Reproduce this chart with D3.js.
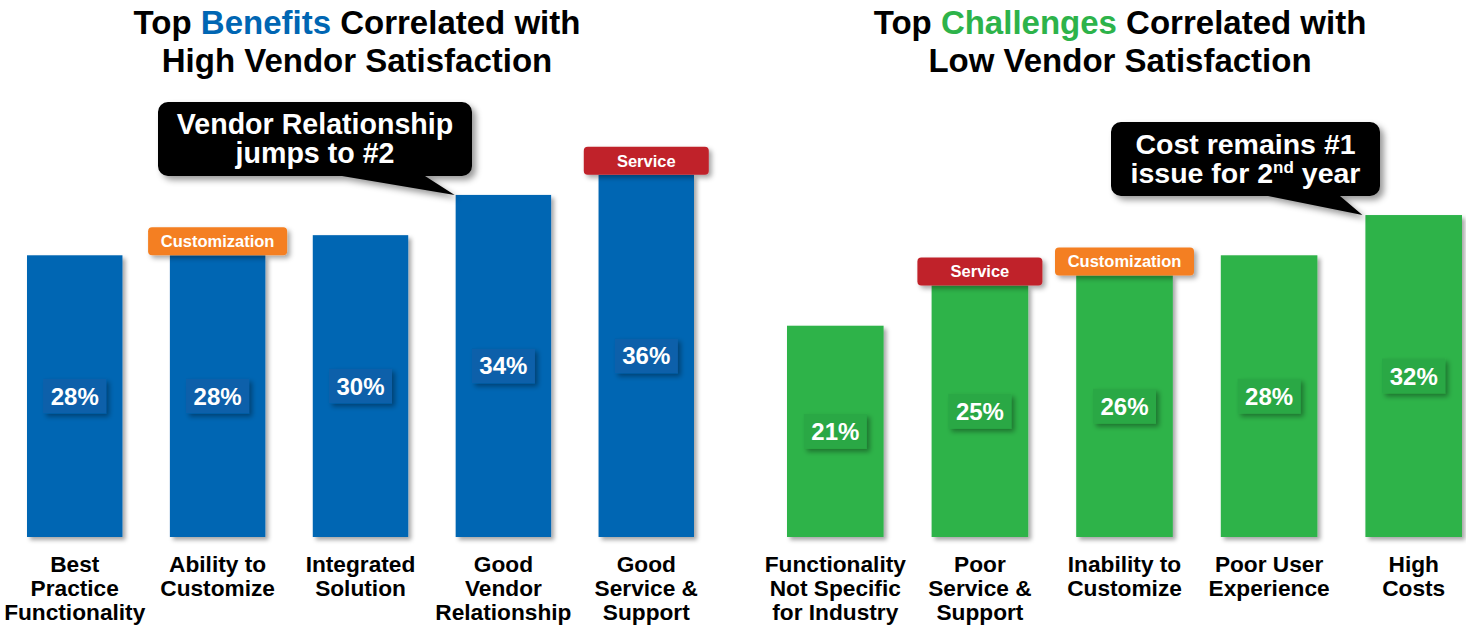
<!DOCTYPE html>
<html>
<head>
<meta charset="utf-8">
<script src="https://cdn.jsdelivr.net/npm/d3@7"></script>
<style>
  html, body { margin: 0; padding: 0; background: #fff; }
  svg { display: block; font-family: "Liberation Sans", Arial, Helvetica, sans-serif; }
</style>
</head>
<body>
<svg id="chart" width="1466" height="625"></svg>
<script>
// ---- Data ----
const benefitCategories = [
  ["Best", "Practice", "Functionality"],
  ["Ability to", "Customize"],
  ["Integrated", "Solution"],
  ["Good", "Vendor", "Relationship"],
  ["Good", "Service &", "Support"]
];
const benefitValues = [28, 28, 30, 34, 36];
const benefitTags = ["", "Customization", "", "", "Service"];

const challengeCategories = [
  ["Functionality", "Not Specific", "for Industry"],
  ["Poor", "Service &", "Support"],
  ["Inability to", "Customize"],
  ["Poor User", "Experience"],
  ["High", "Costs"]
];
const challengeValues = [21, 25, 26, 28, 32];
const challengeTags = ["", "Service", "Customization", "", ""];

const tagColors = { "Service": "#c0212b", "Customization": "#f47f20" };

// ---- Setup ----
const svg = d3.select("#chart");

const defs = svg.append("defs");
function shadow(id, dx, dy, sd, op) {
  const f = defs.append("filter").attr("id", id)
    .attr("x", "-20%").attr("y", "-20%").attr("width", "150%").attr("height", "150%");
  f.append("feDropShadow").attr("dx", dx).attr("dy", dy)
    .attr("stdDeviation", sd).attr("flood-color", "#000").attr("flood-opacity", op);
}
shadow("barShadow", 3, 3, 2, 0.35);
shadow("boxShadow", 3, 3, 2.5, 0.35);
shadow("calloutShadow", 4, 4, 3, 0.4);

const baseline = 537;
const y = d3.scaleLinear().domain([0, 36]).range([baseline, baseline - 362.2]);

function panel(cfg) {
  const x = d3.scaleBand()
    .domain(d3.range(cfg.values.length))
    .range(cfg.range)
    .paddingInner(0.332)
    .paddingOuter(0);
  const g = svg.append("g");

  // Title
  const t = g.append("text").attr("x", cfg.titleX).attr("y", 34)
    .attr("text-anchor", "middle").attr("font-size", 33).attr("font-weight", "bold")
    .attr("fill", "#000");
  t.append("tspan").text("Top ");
  t.append("tspan").attr("fill", cfg.accent).text(cfg.titleWord);
  t.append("tspan").text(" Correlated with");
  g.append("text").attr("x", cfg.titleX).attr("y", 72)
    .attr("text-anchor", "middle").attr("font-size", 33).attr("font-weight", "bold")
    .attr("fill", "#000").text(cfg.title2);

  // Bars
  g.selectAll("rect.bar").data(cfg.values).join("rect")
    .attr("class", "bar")
    .attr("x", (d, i) => x(i))
    .attr("y", d => y(d))
    .attr("width", x.bandwidth())
    .attr("height", d => baseline - y(d))
    .attr("fill", cfg.color)
    .attr("filter", "url(#barShadow)");

  // Value label boxes
  const lab = g.selectAll("g.vlab").data(cfg.values).join("g")
    .attr("class", "vlab")
    .attr("transform", (d, i) => `translate(${x(i) + x.bandwidth() / 2},${(y(d) + baseline) / 2})`);
  lab.append("rect").attr("x", -31.5).attr("y", -17.5).attr("width", 63).attr("height", 35)
    .attr("fill", cfg.boxColor).attr("filter", "url(#boxShadow)");
  lab.append("text").attr("text-anchor", "middle").attr("y", 8.5)
    .attr("font-size", 24).attr("font-weight", "bold").attr("fill", "#fff")
    .text(d => d + "%");

  // Tags
  cfg.tags.forEach((tag, i) => {
    if (!tag) return;
    const w = tag === "Service" ? 125 : 139;
    const cx = x(i) + x.bandwidth() / 2;
    const top = y(cfg.values[i]) - 28;
    g.append("rect").attr("x", cx - w / 2).attr("y", top).attr("width", w).attr("height", 28)
      .attr("rx", 4).attr("fill", tagColors[tag]).attr("filter", "url(#boxShadow)");
    g.append("text").attr("x", cx).attr("y", top + 20).attr("text-anchor", "middle")
      .attr("font-size", 16.5).attr("font-weight", "bold").attr("fill", "#fff").text(tag);
  });

  // Category labels
  cfg.categories.forEach((lines, i) => {
    const cx = x(i) + x.bandwidth() / 2;
    const tx = g.append("text").attr("text-anchor", "middle")
      .attr("font-size", 22.7).attr("font-weight", "bold").attr("fill", "#000");
    lines.forEach((ln, j) => {
      tx.append("tspan").attr("x", cx).attr("y", 572 + j * 24).text(ln);
    });
  });

  return x;
}

const xL = panel({
  values: benefitValues, categories: benefitCategories, tags: benefitTags,
  range: [27, 694], color: "#0066b3", boxColor: "#0a60aa", accent: "#0066b3",
  titleX: 357, titleWord: "Benefits", title2: "High Vendor Satisfaction"
});
const xR = panel({
  values: challengeValues, categories: challengeCategories, tags: challengeTags,
  range: [787, 1462], color: "#2db34a", boxColor: "#29a844", accent: "#2db34a",
  titleX: 1120, titleWord: "Challenges", title2: "Low Vendor Satisfaction"
});

// ---- Callouts ----
function callout(box, tip, baseL, baseR, fs, lineGap, firstY) {
  const g = svg.append("g").attr("filter", "url(#calloutShadow)");
  const r = 10;
  const path = d3.path();
  path.moveTo(box.x0 + r, box.y0);
  path.lineTo(box.x1 - r, box.y0);
  path.arcTo(box.x1, box.y0, box.x1, box.y0 + r, r);
  path.lineTo(box.x1, box.y1 - r);
  path.arcTo(box.x1, box.y1, box.x1 - r, box.y1, r);
  path.lineTo(baseR, box.y1);
  path.lineTo(tip[0], tip[1]);
  path.lineTo(baseL, box.y1);
  path.lineTo(box.x0 + r, box.y1);
  path.arcTo(box.x0, box.y1, box.x0, box.y1 - r, r);
  path.lineTo(box.x0, box.y0 + r);
  path.arcTo(box.x0, box.y0, box.x0 + r, box.y0, r);
  path.closePath();
  g.append("path").attr("d", path.toString()).attr("fill", "#000");
  const cx = (box.x0 + box.x1) / 2;
  const t = svg.append("text").attr("text-anchor", "middle").attr("font-size", fs)
    .attr("font-weight", "bold").attr("fill", "#fff");
  return [
    t.append("tspan").attr("x", cx).attr("y", box.y0 + firstY),
    t.append("tspan").attr("x", cx).attr("y", box.y0 + firstY + lineGap)
  ];
}

const c1 = callout({ x0: 158, y0: 102, x1: 472, y1: 176 },
  [xL(3) - 1, y(benefitValues[3])], 342, 425, 28.6, 29, 32);
c1[0].text("Vendor Relationship");
c1[1].text("jumps to #2");

const c2 = callout({ x0: 1111, y0: 122, x1: 1380, y1: 196 },
  [xR(4) - 3, y(challengeValues[4])], 1268, 1340, 28.5, 29, 31.5);
c2[0].text("Cost remains #1");
c2[1].text("issue for 2");
const t2 = d3.select(c2[1].node().parentNode);
t2.append("tspan").attr("font-size", 17).attr("dy", -10).text("nd");
t2.append("tspan").attr("dy", 10).text(" year");
</script>
</body>
</html>
